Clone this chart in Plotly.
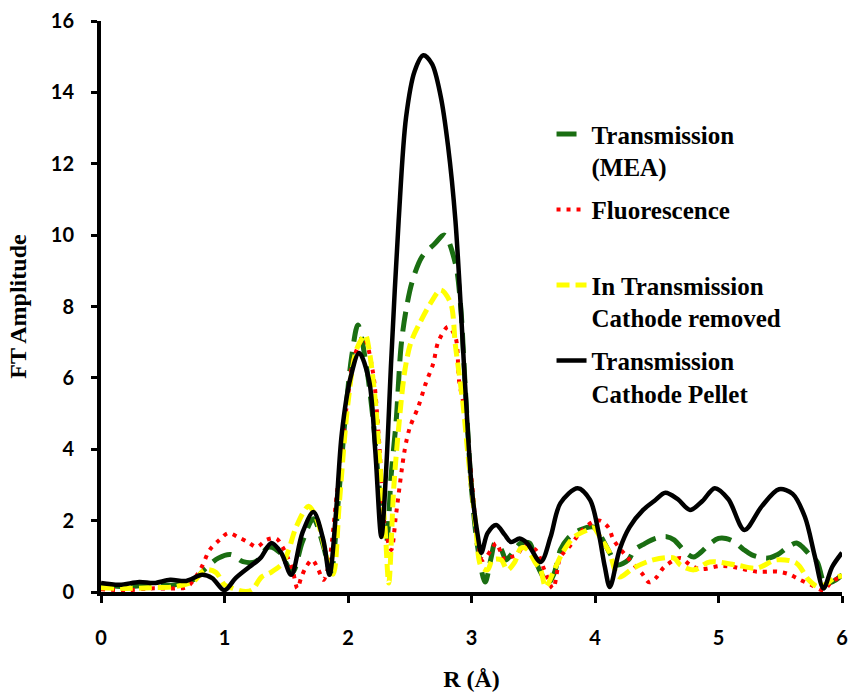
import plotly.graph_objects as go

# ---- data ----
pellet_x = [0, 0.15, 0.31, 0.43, 0.56, 0.69, 0.82, 0.9, 1.0, 1.09, 1.2, 1.29, 1.38, 1.46, 1.54, 1.63, 1.72, 1.8, 1.85,
            1.9, 1.95, 2.02, 2.09, 2.17, 2.22, 2.27, 2.31, 2.35, 2.41, 2.47, 2.54, 2.61, 2.68, 2.75, 2.81, 2.87, 2.95,
            3.0, 3.05, 3.08, 3.13, 3.2, 3.27, 3.32, 3.39, 3.45, 3.56, 3.64, 3.72, 3.86, 3.96, 4.03, 4.08, 4.12, 4.2,
            4.28, 4.39, 4.48, 4.57, 4.67, 4.77, 4.87, 4.97, 5.08, 5.21, 5.35, 5.49, 5.6, 5.7, 5.78, 5.85, 5.92, 6.0]
pellet_y = [0.25, 0.2, 0.28, 0.25, 0.34, 0.31, 0.48, 0.39, 0.05, 0.39, 0.7, 0.95, 1.37, 1.09, 0.48, 1.65, 2.24, 1.46, 0.48,
            2.1, 4.45, 6.0, 6.7, 5.94, 4.0, 1.54, 3.5, 6.5, 10.4, 13.3, 14.6, 15.04, 14.8, 13.9, 12.5, 10.4, 5.7,
            3.0, 1.6, 1.1, 1.65, 1.88, 1.6, 1.4, 1.5, 1.37, 0.84, 1.54, 2.49, 2.91, 2.58, 1.65, 0.7, 0.14, 1.2,
            1.82, 2.3, 2.55, 2.78, 2.6, 2.3, 2.55, 2.91, 2.6, 1.74, 2.4, 2.88, 2.75, 2.1, 1.0, 0.1, 0.7, 1.1]

mea_x = [0, 0.2, 0.4, 0.6, 0.75, 0.85, 0.95, 1.05, 1.15, 1.25, 1.36, 1.45, 1.55, 1.63, 1.72, 1.8, 1.86, 1.92, 1.98,
         2.03, 2.08, 2.15, 2.21, 2.25, 2.31, 2.35, 2.39, 2.43, 2.47, 2.52, 2.6, 2.7, 2.78, 2.87, 2.91, 2.95, 3.0,
         3.05, 3.11, 3.16, 3.19, 3.24, 3.28, 3.32, 3.4, 3.47, 3.51, 3.55, 3.62, 3.67, 3.72, 3.78, 3.88, 3.99, 4.04,
         4.12, 4.18, 4.27, 4.32, 4.4, 4.49, 4.58, 4.64, 4.74, 4.8, 4.86, 4.93, 5.0, 5.06, 5.13, 5.2, 5.27, 5.4,
         5.48, 5.55, 5.63, 5.68, 5.75, 5.8, 5.86, 5.93, 6.0]
mea_y = [0.2, 0.15, 0.2, 0.2, 0.35, 0.67, 0.95, 1.05, 0.85, 0.85, 1.26, 1.1, 0.55, 1.4, 2.05, 1.3, 0.55, 2.5, 5.0,
         6.6, 7.48, 6.3, 4.6, 3.0, 1.37, 3.3, 4.8, 6.9, 7.9, 8.7, 9.4, 9.75, 10.0, 9.2, 8.1, 5.7, 2.9,
         1.26, 0.28, 0.98, 1.37, 1.2, 0.9, 1.04, 1.37, 1.37, 0.98, 0.62, 0.25, 0.53, 1.18, 1.5, 1.74, 1.82, 1.6,
         1.09, 0.76, 0.9, 1.18, 1.35, 1.5, 1.55, 1.46, 1.09, 0.98, 1.12, 1.35, 1.5, 1.5, 1.4, 1.2, 1.04, 0.95,
         1.05, 1.23, 1.37, 1.26, 1.0, 0.84, 0.25, 0.3, 0.48]

fluo_x = [0, 0.2, 0.4, 0.6, 0.7, 0.81, 0.88, 0.96, 1.03, 1.11, 1.19, 1.26, 1.34, 1.42, 1.47, 1.51, 1.55, 1.59, 1.62,
          1.66, 1.71, 1.76, 1.8, 1.84, 1.91, 2.0, 2.05, 2.13, 2.2, 2.25, 2.3, 2.35, 2.39, 2.46, 2.5, 2.57, 2.63,
          2.69, 2.73, 2.81, 2.87, 2.9, 2.95, 3.0, 3.05, 3.09, 3.16, 3.2, 3.27, 3.32, 3.37, 3.43, 3.52, 3.59, 3.66,
          3.72, 3.79, 3.9, 3.98, 4.04, 4.11, 4.15, 4.26, 4.38, 4.44, 4.5, 4.56, 4.69, 4.77, 4.85, 5.02, 5.12, 5.31,
          5.48, 5.57, 5.65, 5.75, 5.85, 5.92, 6.0]
fluo_y = [0.08, 0.05, 0.1, 0.1, 0.15, 0.67, 1.18, 1.46, 1.65, 1.54, 1.4, 1.26, 1.46, 1.5, 1.26, 0.98, 0.64, 0.1, 0.39,
          0.7, 0.9, 0.62, 0.34, 0.7, 2.77, 5.5, 6.6, 7.1, 6.2, 4.3, 1.8, 1.18, 2.2, 4.0, 4.6, 5.2, 5.85,
          6.4, 7.0, 7.43, 7.14, 5.9, 5.0, 3.2, 1.46, 0.9, 1.18, 1.37, 0.9, 0.98, 1.04, 1.32, 1.18, 0.62, 0.1,
          0.98, 1.26, 1.74, 1.96, 2.0, 1.8, 1.46, 0.98, 0.52, 0.27, 0.42, 0.7, 0.95, 0.76, 0.64, 0.73, 0.7, 0.57,
          0.57, 0.5, 0.36, 0.2, 0.05, 0.3, 0.42]

removed_x = [0, 0.2, 0.4, 0.6, 0.75, 0.84, 0.93, 1.0, 1.07, 1.15, 1.22, 1.3, 1.38, 1.47, 1.52, 1.58, 1.68, 1.74, 1.79,
             1.84, 1.88, 1.93, 2.0, 2.07, 2.14, 2.17, 2.22, 2.26, 2.3, 2.33, 2.37, 2.41, 2.46, 2.51, 2.59, 2.67, 2.75,
             2.83, 2.87, 2.93, 2.97, 3.03, 3.08, 3.13, 3.17, 3.24, 3.29, 3.35, 3.4, 3.45, 3.52, 3.56, 3.6, 3.67, 3.74,
             3.83, 3.94, 3.99, 4.04, 4.12, 4.16, 4.2, 4.31, 4.47, 4.64, 4.69, 4.8, 4.93, 5.14, 5.31, 5.47, 5.63, 5.73,
             5.81, 5.88, 5.95, 6.0]
removed_y = [0.12, 0.1, 0.12, 0.15, 0.3, 0.62, 0.55, 0.2, 0.1, 0.02, 0.05, 0.42, 0.56, 0.8, 1.18, 1.82, 2.4, 2.1, 1.54,
             0.8, 0.5, 2.5, 5.3, 6.8, 7.2, 6.8, 5.4, 3.5, 1.8, 0.25, 2.9, 4.6, 6.2, 7.0, 7.6, 8.1, 8.46,
             8.1, 6.9, 5.3, 3.9, 2.0, 0.7, 0.62, 0.9, 0.9, 0.62, 0.84, 1.23, 1.2, 0.8, 0.62, 0.14, 0.62, 1.12,
             1.54, 1.74, 1.8, 1.54, 1.09, 0.62, 0.42, 0.67, 0.9, 0.95, 0.76, 0.62, 0.84, 0.76, 0.67, 0.9, 0.81, 0.34,
             0.14, 0.25, 0.42, 0.45]

names = ["Transmission<br>(MEA)", "Fluorescence<br> ", "In Transmission<br>Cathode removed",
         "Transmission<br>Cathode Pellet"]
y_ticks = [0, 2, 4, 6, 8, 10, 12, 14, 16]
x_ticks = [0, 1, 2, 3, 4, 5, 6]

SERIF = "Liberation Serif"
serif = dict(family=SERIF, color="black", weight=700)
sans = dict(family="Lato", color="black", weight=700)

fig = go.Figure()
series = [
    (mea_x, mea_y, names[0], dict(color="#1a6e12", width=5, dash="20px,10px")),
    (fluo_x, fluo_y, names[1], dict(color="#ff0000", width=4, dash="4px,6px")),
    (removed_x, removed_y, names[2], dict(color="#ffff00", width=5, dash="13px,6px")),
    (pellet_x, pellet_y, names[3], dict(color="black", width=4.5)),
]
for i, (xs, ys, nm, ln) in enumerate(series):
    ln = dict(ln, shape="spline", smoothing=0.9)
    fig.add_trace(go.Scatter(x=xs, y=ys, mode="lines", name=nm, line=ln, legendgroup=f"g{i}"))

fig.update_layout(
    width=849, height=692,
    margin=dict(l=101, r=7, t=21, b=100),
    paper_bgcolor="white", plot_bgcolor="white",
    showlegend=True,
    legend=dict(x=0.608, y=0.842, xanchor="left", yanchor="top", valign="top",
                font=dict(size=25, **serif), bgcolor="rgba(0,0,0,0)",
                tracegroupgap=7.5, itemwidth=30),
    xaxis=dict(range=[0, 6], tickvals=x_ticks, showline=True, linecolor="black", linewidth=4,
               ticks="outside", ticklen=7, tickwidth=3, tickcolor="black", showgrid=False, zeroline=False,
               tickfont=dict(size=20, **sans), ticklabelstandoff=18, ticklabeloverflow="allow",
               automargin=False,
               title=dict(text="R (Å)", font=dict(size=24, **serif), standoff=24)),
    yaxis=dict(range=[0, 16], tickvals=y_ticks, showline=True, linecolor="black", linewidth=4,
               ticks="outside", ticklen=6, tickwidth=3, tickcolor="black", showgrid=False, zeroline=False,
               tickfont=dict(size=20, **sans), ticklabelstandoff=13, automargin=False,
               title=dict(text="FT Amplitude", font=dict(size=24, **serif), standoff=18)),
)

fig.write_html("out.html")
